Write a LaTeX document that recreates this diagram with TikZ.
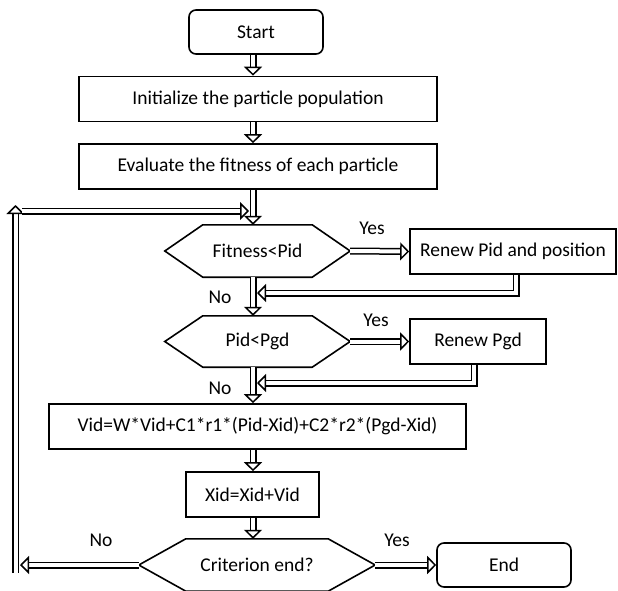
\documentclass[tikz,border=0pt]{standalone}
\usepackage{fontspec}
\setmainfont{Carlito}
\usetikzlibrary{arrows.meta}

\tikzset{
  box/.style={draw, line width=1.6pt, minimum height=45pt, inner sep=0pt},
  term/.style={box, rounded corners=7pt, minimum width=134pt, minimum height=44pt},
  decision/.style={inner sep=0pt, minimum height=52pt, minimum width=185pt},
  flow/.style={double, line width=1.5pt, double distance=4pt,
    -{Triangle[open, length=9pt, width=18pt, line width=1.5pt]}},
  lbl/.style={inner sep=0pt}
}
\newcommand{\drawhex}[2]{%
  \draw[line width=1.6pt] (#1.west) -- ([xshift=#2]#1.north west) -- ([xshift=-#2]#1.north east)
    -- (#1.east) -- ([xshift=-#2]#1.south east) -- ([xshift=#2]#1.south west) -- cycle;}

\begin{document}
\begin{tikzpicture}[x=1pt, y=-1pt, font=\fontsize{19.5}{23}\selectfont]
  \useasboundingbox (0,0) rectangle (618,591);
  \coordinate (col) at (253,0);

  \node[term] (start) at (256,32) {Start};
  \node[box, minimum width=358pt] (init) at (258,99) {Initialize the particle population};
  \node[box, minimum width=358pt] (eval) at (258,166.5) {Evaluate the fitness of each particle};
  \node[decision] (fit) at (257.5,251) {Fitness<Pid};
  \node[box, minimum width=206pt] (renpid) at (513,251.5) {Renew Pid and position};
  \node[decision, minimum height=51pt] (pidpgd) at (257.5,341.5) {Pid<Pgd};
  \node[box, minimum width=136pt] (renpgd) at (478,341.5) {Renew Pgd};
  \node[box, minimum width=417pt] (vid) at (257.5,426.5) {Vid=W*Vid+C1*r1*(Pid-Xid)+C2*r2*(Pgd-Xid)};
  \node[box, minimum width=133pt] (xid) at (252.5,494.5) {Xid=Xid+Vid};
  \node[decision, minimum width=236pt] (crit) at (257,565) {Criterion end?};
  \node[term] (end) at (504,565) {End};
  \drawhex{fit}{38}
  \drawhex{pidpgd}{38}
  \drawhex{crit}{47}

  \coordinate (j0) at (249,211);
  \coordinate (j1) at (257,293);
  \coordinate (j2) at (257,383);
  \coordinate (lno) at (20,565);
  \coordinate (lbot) at (15.5,573);
  \coordinate (ltop) at (15.5,205);
  \coordinate (lin) at (22,211);

  \draw[flow] (start.south -| col) -- (init.north -| col);
  \draw[flow] (init.south -| col) -- (eval.north -| col);
  \draw[flow] (eval.south -| col) -- (fit.north -| col);
  \draw[flow] (fit.east) -- (renpid.west);
  \draw[flow] ([xshift=3pt]renpid.south) |- (j1);
  \draw[flow] (fit.south -| col) -- (pidpgd.north -| col);
  \draw[flow] (pidpgd.east) -- (renpgd.west);
  \draw[flow] ([xshift=-4pt]renpgd.south) |- (j2);
  \draw[flow] (pidpgd.south -| col) -- (vid.north -| col);
  \draw[flow] (vid.south -| col) -- (xid.north -| col);
  \draw[flow] (xid.south -| col) -- (crit.north -| col);
  \draw[flow] (crit.east) -- (end.west);
  \draw[flow] (crit.west) -- (lno);
  \draw[flow] (lbot) -- (ltop);
  \draw[flow] (lin) -- (j0);

  \node[lbl] (yes1) at (372,228) {Yes};
  \node[lbl] (yes2) at (376,320) {Yes};
  \node[lbl] (yes3) at (397,540) {Yes};
  \node[lbl] (no1) at (220,297) {No};
  \node[lbl] (no2) at (220,388) {No};
  \node[lbl] (no3) at (101,540) {No};
\end{tikzpicture}
\end{document}
